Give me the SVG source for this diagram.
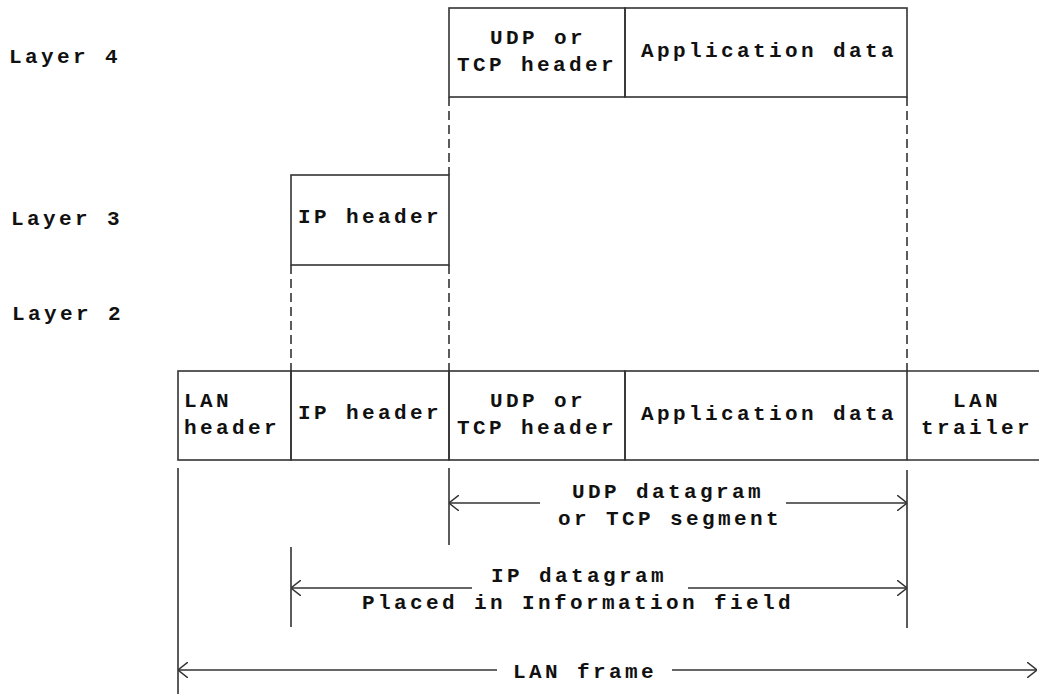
<svg xmlns="http://www.w3.org/2000/svg" width="1039" height="694" viewBox="0 0 1039 694">
<style>
text{font-family:"Liberation Mono","Courier New",monospace;font-weight:bold;font-size:21px;letter-spacing:3.4px;fill:#111}
.box{fill:none;stroke:#333;stroke-width:1.6}
.ln{stroke:#333;stroke-width:1.6;fill:none}
.dash{stroke:#333;stroke-width:1.6;stroke-dasharray:9 5;fill:none}
</style>
<defs>
<marker id="ah" viewBox="0 0 10 16" refX="10" refY="8" markerWidth="10" markerHeight="16" markerUnits="userSpaceOnUse" orient="auto">
<path d="M0,0 L10,8 L0,16" fill="none" stroke="#333" stroke-width="1.4"/>
</marker>
</defs>
<g id="labels">
<text x="9" y="63">Layer 4</text>
<text x="11" y="225">Layer 3</text>
<text x="12" y="320">Layer 2</text>
</g>
<g id="l4-header">
<rect class="box" x="449" y="8" width="176" height="89"/>
<text x="490" y="44">UDP or</text>
<text x="457" y="71">TCP header</text>
</g>
<g id="l4-data">
<rect class="box" x="625" y="8" width="282" height="89"/>
<text x="641" y="57">Application data</text>
</g>
<g id="l3-ip">
<rect class="box" x="291" y="175" width="158" height="90"/>
<text x="298" y="223">IP header</text>
</g>
<g id="lan-header">
<rect class="box" x="178" y="371" width="113" height="89"/>
<text x="184" y="407">LAN</text>
<text x="184" y="434">header</text>
</g>
<g id="l2-ip">
<rect class="box" x="291" y="371" width="158" height="89"/>
<text x="298" y="419">IP header</text>
</g>
<g id="l2-tcp">
<rect class="box" x="449" y="371" width="176" height="89"/>
<text x="490" y="407">UDP or</text>
<text x="457" y="434">TCP header</text>
</g>
<g id="l2-data">
<rect class="box" x="625" y="371" width="282" height="89"/>
<text x="641" y="420">Application data</text>
</g>
<g id="lan-trailer">
<path class="ln" d="M907,371 H1039 M907,460 H1039"/>
<text x="953" y="407">LAN</text>
<text x="921" y="434">trailer</text>
</g>
<g id="connectors">
<path class="dash" d="M449,97 V175 M449,265 V371 M907,97 V371 M291,265 V371"/>
<path class="ln" d="M178,468 V694 M449,468 V545 M907,470 V628 M291,547 V627"/>
<line class="ln" x1="540" y1="503" x2="449" y2="503" marker-end="url(#ah)"/>
<line class="ln" x1="786" y1="503" x2="907" y2="503" marker-end="url(#ah)"/>
<line class="ln" x1="472" y1="588" x2="291" y2="588" marker-end="url(#ah)"/>
<line class="ln" x1="688" y1="588" x2="907" y2="588" marker-end="url(#ah)"/>
<line class="ln" x1="497" y1="670" x2="178" y2="670" marker-end="url(#ah)"/>
<line class="ln" x1="672" y1="670" x2="1037" y2="670" marker-end="url(#ah)"/>
<text x="572" y="498">UDP datagram</text>
<text x="558" y="525">or TCP segment</text>
<text x="491" y="582">IP datagram</text>
<text x="362" y="609">Placed in Information field</text>
<text x="513" y="678">LAN frame</text>
</g>
</svg>
